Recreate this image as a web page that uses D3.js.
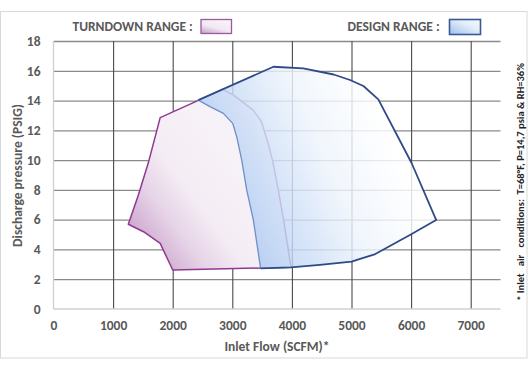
<!DOCTYPE html>
<html>
<head>
<meta charset="utf-8">
<script src="https://cdn.jsdelivr.net/npm/d3@7"></script>
<style>
  body { margin: 0; background: #fff; }
  text { font-family: Carlito, Calibri, Lato, "Open Sans", sans-serif; }
</style>
</head>
<body>
<svg></svg>
<script>
// operating envelopes (flow in SCFM, pressure in PSIG)
let turndownFlow = [1790, 2840, 3020, 3350, 3490, 3600, 3680, 3770, 3860, 3985, 2000, 1790, 1510, 1255, 1420, 1590];
let turndownPsig = [12.85, 14.75, 14.37, 13.36, 12.58, 11.13, 9.9, 8.0, 6.0, 2.8, 2.62, 4.41, 5.19, 5.69, 7.6, 9.8];

let designFlow = [2430, 3690, 4190, 4700, 4975, 5200, 5450, 6010, 6420, 5980, 5400, 5000, 4470, 3985, 3475, 3353, 3242, 3158, 3074, 3007, 2850, 2626];
let designPsig = [14.03, 16.27, 16.16, 15.75, 15.38, 14.98, 14.08, 9.79, 5.98, 4.97, 3.69, 3.18, 2.96, 2.8, 2.73, 5.98, 7.99, 10.0, 11.57, 12.47, 13.14, 13.59];

let xTicks = [0, 1000, 2000, 3000, 4000, 5000, 6000, 7000];
let yTicks = [0, 2, 4, 6, 8, 10, 12, 14, 16, 18];

let svg = d3.select("svg").attr("width", 531).attr("height", 371),
    margin = {top: 41, right: 30.5, bottom: 62, left: 53.5},
    width = 531 - margin.left - margin.right,
    height = 371 - margin.top - margin.bottom;

let x = d3.scaleLinear().domain([0, 7500]).range([margin.left, margin.left + width]),
    y = d3.scaleLinear().domain([0, 18]).range([margin.top + height, margin.top]);

let defs = svg.append("defs");

function gradient(id, stops, x1, y1, x2, y2) {
    let g = defs.append("linearGradient").attr("id", id)
        .attr("x1", x1).attr("y1", y1).attr("x2", x2).attr("y2", y2);
    stops.forEach(function(s) {
        g.append("stop").attr("offset", s[0]).attr("stop-color", s[1]);
    });
}
gradient("gTurn", [[0, "#c79cc8"], [0.35, "#e6d3e7"], [0.6, "#f4ecf4"], [1, "#f7f2f7"]], 0, 0.85, 0.6, 0.35);
gradient("gDesign", [[0, "#9dbfee"], [0.3, "#c3d8f5"], [0.65, "#eef4fc"], [1, "#ffffff"]], 0.05, 0.75, 0.85, 0.45);
gradient("gTurnKey", [[0, "#c79cc8"], [0.5, "#f2e8f2"], [1, "#f8f3f8"]], 0, 1, 0.6, 0);
gradient("gDesignKey", [[0, "#9dbfee"], [0.6, "#e3edfa"], [1, "#f6f9fe"]], 0, 1, 1, 0);

// outer frame
svg.append("rect")
    .attr("x", 0.5).attr("y", 11.5)
    .attr("width", 526.5).attr("height", 346.5)
    .attr("fill", "none").attr("stroke", "#d9d9d9");

// horizontal gridlines
svg.append("g")
    .attr("transform", "translate(" + margin.left + ",0)")
    .call(d3.axisLeft(y).tickValues(yTicks.slice(1)).tickSize(-width).tickFormat(""))
    .call(function(g) { g.select(".domain").remove(); })
    .selectAll("line").attr("stroke", "#8a8a8a").attr("stroke-width", 1.3);

// vertical gridlines
svg.append("g")
    .attr("transform", "translate(0," + (margin.top + height) + ")")
    .call(d3.axisBottom(x).tickValues(xTicks.slice(1)).tickSize(-height).tickFormat(""))
    .call(function(g) { g.select(".domain").remove(); })
    .selectAll("line").attr("stroke", "#4a4a4a").attr("stroke-width", 1.1);

// axis lines
svg.append("line")
    .attr("x1", x(0)).attr("x2", x(0)).attr("y1", y(0)).attr("y2", y(18))
    .attr("stroke", "#d0d0d0").attr("stroke-width", 1.3);
svg.append("line")
    .attr("x1", x(0)).attr("x2", x(7500)).attr("y1", y(0)).attr("y2", y(0))
    .attr("stroke", "#d0d0d0").attr("stroke-width", 1.3);

// tick labels
let yAxis = svg.append("g")
    .attr("transform", "translate(" + margin.left + ",0)")
    .call(d3.axisLeft(y).tickValues(yTicks).tickSize(0).tickPadding(13));
yAxis.select(".domain").remove();
yAxis.selectAll("text").style("font-size", "13.5px").style("font-weight", "bold").attr("fill", "#595959");

let xAxis = svg.append("g")
    .attr("transform", "translate(0," + (margin.top + height) + ")")
    .call(d3.axisBottom(x).tickValues(xTicks).tickFormat(d3.format("d")).tickSize(0).tickPadding(11));
xAxis.select(".domain").remove();
xAxis.selectAll("text").style("font-size", "13.5px").style("font-weight", "bold").attr("fill", "#595959");

let line = d3.line()
    .x(function(d) { return x(d[0]); })
    .y(function(d) { return y(d[1]); });

let turndown = d3.zip(turndownFlow, turndownPsig),
    design = d3.zip(designFlow, designPsig);

// turndown range
svg.append("path")
    .attr("d", line(turndown) + "Z")
    .attr("fill", "url(#gTurn)")
    .attr("stroke", "#8e3a92")
    .attr("stroke-width", 1.5)
    .attr("stroke-linejoin", "round");

// design range (slightly see-through over the turndown outline)
svg.append("path")
    .attr("d", line(design) + "Z")
    .attr("fill", "url(#gDesign)")
    .attr("fill-opacity", 0.82)
    .attr("stroke", "none");

// left edge of design range is softer
svg.append("path")
    .attr("d", line(design.slice(14).concat([design[0]])))
    .attr("fill", "none")
    .attr("stroke", "#6f8fc6")
    .attr("stroke-width", 1.3)
    .attr("stroke-linejoin", "round");

svg.append("path")
    .attr("d", line(design.slice(0, 15)))
    .attr("fill", "none")
    .attr("stroke", "#2f4b87")
    .attr("stroke-width", 1.8)
    .attr("stroke-linejoin", "round");

// legend
svg.append("text")
    .attr("x", 72.5).attr("y", 31)
    .style("font-size", "13.5px").style("font-weight", "bold")
    .attr("fill", "#595959")
    .text("TURNDOWN RANGE :");
svg.append("rect")
    .attr("x", 201).attr("y", 19.5).attr("width", 30.5).attr("height", 14)
    .attr("fill", "url(#gTurnKey)").attr("stroke", "#9a5aa0").attr("stroke-width", 1.3);

svg.append("text")
    .attr("x", 347.5).attr("y", 31)
    .style("font-size", "13.5px").style("font-weight", "bold")
    .attr("fill", "#595959")
    .text("DESIGN RANGE :");
svg.append("rect")
    .attr("x", 449.5).attr("y", 19.5).attr("width", 31).attr("height", 15)
    .attr("fill", "url(#gDesignKey)").attr("stroke", "#3b5a94").attr("stroke-width", 1.6);

// axis titles
svg.append("text")
    .attr("transform", "translate(22," + (margin.top + height / 2 + 0.5) + ") rotate(-90)")
    .attr("text-anchor", "middle")
    .style("font-size", "13.5px").style("font-weight", "bold")
    .attr("fill", "#595959")
    .text("Discharge pressure (PSIG)");

svg.append("text")
    .attr("x", 277).attr("y", 351)
    .attr("text-anchor", "middle")
    .style("font-size", "13.5px").style("font-weight", "bold")
    .attr("fill", "#595959")
    .text("Inlet Flow (SCFM)*");

// inlet conditions note
svg.append("text")
    .attr("transform", "translate(523.5,182) rotate(-90)")
    .attr("text-anchor", "middle")
    .attr("xml:space", "preserve")
    .style("white-space", "pre")
    .style("font-size", "10.5px").style("font-weight", "bold")
    .attr("fill", "#222")
    .text("* Inlet   air   conditions:  T=68°F, P=14,7 psia & RH=36%");
</script>
</body>
</html>
